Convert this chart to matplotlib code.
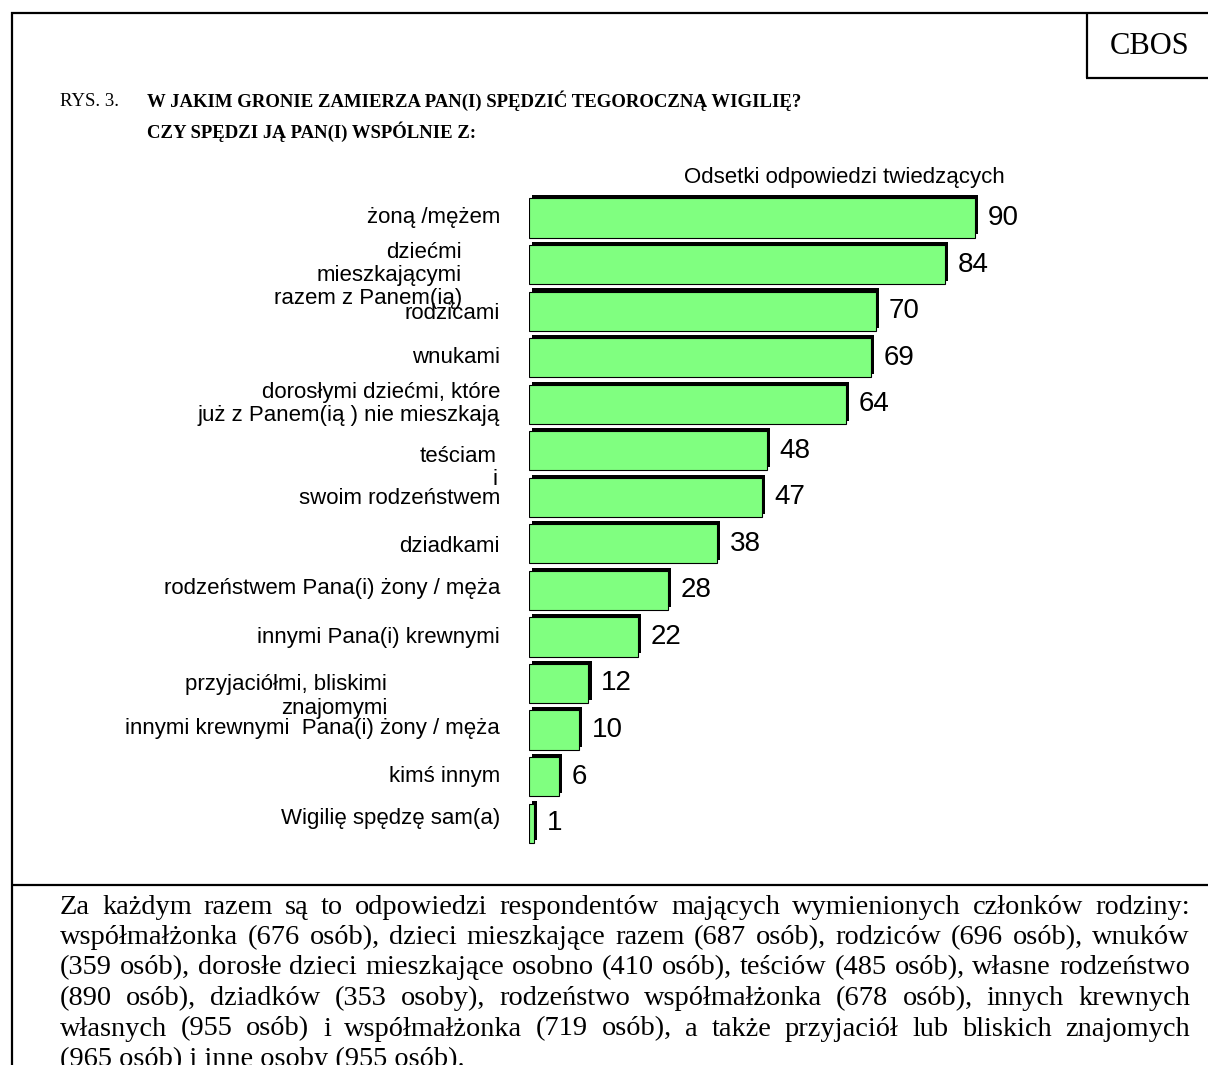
import matplotlib
matplotlib.use('Agg')
import matplotlib.pyplot as plt
import matplotlib.patheffects as pe
import matplotlib.transforms as mtransforms
from matplotlib.lines import Line2D

# categories as printed in the chart (with the original odd line breaks)
categories = [
    'żoną /mężem',
    'dziećmi\nmieszkającymi\nrazem z Panem(ią)',
    'rodzicami',
    'wnukami',
    'dorosłymi dziećmi, które\njuż z Panem(ią ) nie mieszkają',
    'teściam\ni',
    'swoim rodzeństwem',
    'dziadkami',
    'rodzeństwem Pana(i) żony / męża',
    'innymi Pana(i) krewnymi',
    'przyjaciółmi, bliskimi\nznajomymi',
    'innymi krewnymi  Pana(i) żony / męża',
    'kimś innym',
    'Wigilię spędzę sam(a)',
]
values = [90, 84, 70, 69, 64, 48, 47, 38, 28, 22, 12, 10, 6, 1]

title_prefix = 'RYS. 3.'
title_lines = ['W JAKIM GRONIE ZAMIERZA PAN(I) SPĘDZIĆ TEGOROCZNĄ WIGILIĘ?',
               'CZY SPĘDZI JĄ PAN(I) WSPÓLNIE Z:']
axis_note = 'Odsetki odpowiedzi twiedzących'
footer_lines = [
    'Za każdym razem są to odpowiedzi respondentów mających wymienionych członków rodziny:',
    'współmałżonka (676 osób), dzieci mieszkające razem (687 osób), rodziców (696 osób), wnuków',
    '(359 osób), dorosłe dzieci mieszkające osobno (410 osób), teściów (485 osób), własne rodzeństwo',
    '(890 osób), dziadków (353 osoby), rodzeństwo współmałżonka (678 osób), innych krewnych',
    'własnych (955 osób) i współmałżonka (719 osób), a także przyjaciół lub bliskich znajomych',
    '(965 osób) i inne osoby (955 osób).',
]

# label layout tweaks (pixels): vertical shift and right edge of each label
label_dy = [0, 11, 2, 0, 0, 17, 1, 3, -2, 1, 13, -2, 0, -5]
label_right = [500, 462, 500, 500, 500, 497, 500, 500, 500, 500, 387, 500, 500, 500]

W, H = 1208, 1065
SANS = ['Liberation Sans', 'DejaVu Sans']
SERIF = ['Liberation Serif', 'DejaVu Serif']

fig = plt.figure(figsize=(W / 100, H / 100), dpi=100)

# axes placed so that bar 0 is centred at y=218 px and x=0 at 529 px
px_per_bar = 46.55
y_top, y_bot = 180, 870
x_left, x_right = 529, 1080
px_per_unit = 4.956
ax = fig.add_axes([x_left / W, 1 - y_bot / H, (x_right - x_left) / W, (y_bot - y_top) / H])
ax.set_xlim(0, (x_right - x_left) / px_per_unit)
ax.set_ylim((y_bot - 218) / px_per_bar, (y_top - 218) / px_per_bar)
ax.axis('off')

ypos = list(range(len(values)))
bars = ax.barh(ypos, values, height=0.84, color='#80FF80', edgecolor='black', linewidth=0.8)
for b in bars:
    b.set_path_effects([pe.SimplePatchShadow(offset=(2.2, 2.2), shadow_rgbFace='black', alpha=1.0),
                        pe.Normal()])

for i, v in enumerate(values):
    ax.text(v + 2.6, i, str(v), fontsize=20, family=SANS, ha='left', va='center')

label_trans = mtransforms.blended_transform_factory(fig.transFigure, ax.transData)
for i, lab in enumerate(categories):
    y = i + label_dy[i] / px_per_bar
    ax.text(label_right[i] / W, y, lab, transform=label_trans,
            fontsize=16, family=SANS, ha='right', va='center', multialignment='right', linespacing=1.15)

fig.text(684 / W, 1 - 177 / H, axis_note, fontsize=16, family=SANS, ha='left', va='center')

# frame lines
def hline(y, x0, x1):
    fig.add_artist(Line2D([x0 / W, x1 / W], [1 - y / H, 1 - y / H], color='black', lw=1.6,
                          transform=fig.transFigure, solid_capstyle='butt'))

def vline(x, y0, y1):
    fig.add_artist(Line2D([x / W, x / W], [1 - y0 / H, 1 - y1 / H], color='black', lw=1.6,
                          transform=fig.transFigure, solid_capstyle='butt'))

hline(13, 11, W)
vline(12, 12, H)
vline(1087, 12, 78)
hline(78, 1086, W)
hline(885, 11, W)

fig.text(1150 / W, 1 - 46 / H, 'CBOS', fontsize=22, family=SERIF, ha='center', va='center')

# title
fig.text(60 / W, 1 - 101 / H, title_prefix, fontsize=13.5, family=SERIF, ha='left', va='center')
fig.text(147 / W, 1 - 101 / H, title_lines[0], fontsize=13.5, family=SERIF, weight='bold',
         ha='left', va='center')
fig.text(147 / W, 1 - 132 / H, title_lines[1], fontsize=13.5, family=SERIF, weight='bold',
         ha='left', va='center')

# footer, justified between 60 and 1190 px
fig.canvas.draw()
renderer = fig.canvas.get_renderer()
x0, x1 = 60, 1190
y0, dy = 907, 30.5

def text_width(s, size):
    t = fig.text(0, 0, s, fontsize=size, family=SERIF)
    w = t.get_window_extent(renderer).width
    t.remove()
    return w

# font size chosen so the tightest line nearly fills the column
fsize = 19 * (x1 - x0 - 25) / text_width(footer_lines[1], 19)

for k, line in enumerate(footer_lines):
    y = 1 - (y0 + k * dy) / H
    if k == len(footer_lines) - 1:
        fig.text(x0 / W, y, line, fontsize=fsize, family=SERIF, ha='left', va='center')
        continue
    words = line.split()
    widths = [text_width(w, fsize) for w in words]
    gap = (x1 - x0 - sum(widths)) / (len(words) - 1)
    x = x0
    for w, ww in zip(words, widths):
        fig.text(x / W, y, w, fontsize=fsize, family=SERIF, ha='left', va='center')
        x += ww + gap

fig.savefig('out.png', dpi=100)
